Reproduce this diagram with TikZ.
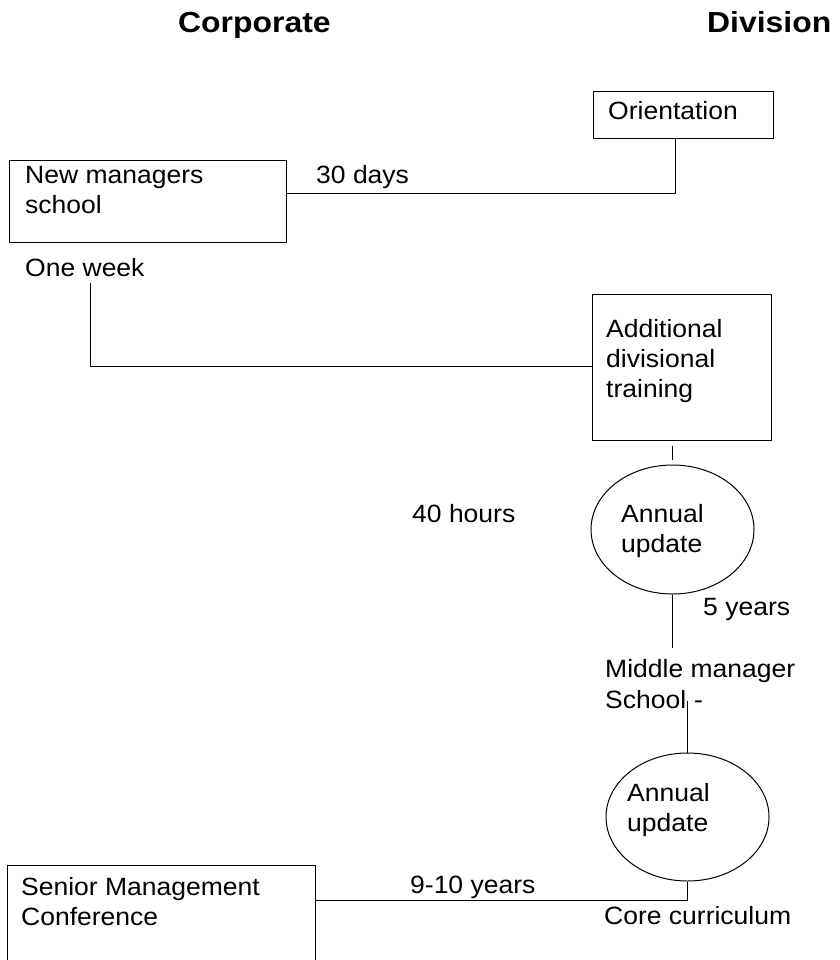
\documentclass[tikz,border=0pt]{standalone}
\usepackage{fontspec}
\setmainfont{Liberation Sans}[FakeStretch=1.06]
\newfontfamily\headfont{Liberation Sans}[FakeStretch=1.1]
\usetikzlibrary{shapes.geometric}

\tikzset{
  box/.style={draw, line width=1pt, rectangle, inner sep=0pt},
  oval/.style={draw, line width=1pt, ellipse, inner sep=0pt},
  link/.style={draw, line width=1pt},
  txt/.style={anchor=base west, inner sep=0pt, font=\fontsize{25}{30}\selectfont},
  head/.style={anchor=base west, inner sep=0pt, font=\headfont\bfseries\fontsize{29}{34}\selectfont},
}

\begin{document}
\begin{tikzpicture}[x=1pt, y=-1pt]
  \clip (0,0) rectangle (839,960);
  \fill[white] (0,0) rectangle (839,960);

  % column headings
  \node[head] (hcorp) at (178,33) {Corporate};
  \node[head] (hdiv)  at (707,33) {Division};

  % boxes and ovals
  \node[box, minimum width=277pt, minimum height=81pt]  (nms)    at (147.5,201.5) {};
  \node[box, minimum width=180pt, minimum height=47pt]  (orient) at (683,115.5) {};
  \node[box, minimum width=179pt, minimum height=146pt] (addl)   at (681.5,367) {};
  \node[oval, minimum width=163pt, minimum height=129pt] (upd1)  at (672.5,529.5) {};
  \node[oval, minimum width=163pt, minimum height=128pt] (upd2)  at (687.5,817) {};
  \node[box, minimum width=308pt, minimum height=130pt] (senior) at (161,930) {};

  % texts
  \node[txt] (t-nms1) at (25,183) {New managers};
  \node[txt] (t-nms2) at (25,213) {school};
  \node[txt] (t-30)   at (316,183) {30 days};
  \node[txt] (t-week) at (25,276) {One week};
  \node[txt] (t-or)   at (608,120) {Orientation};
  \node[txt] (t-ad1)  at (606,337) {Additional};
  \node[txt] (t-ad2)  at (606,367) {divisional};
  \node[txt] (t-ad3)  at (606,397) {training};
  \node[txt] (t-40)   at (412,522) {40 hours};
  \node[txt] (t-u11)  at (621,522) {Annual};
  \node[txt] (t-u12)  at (621,552) {update};
  \node[txt] (t-5y)   at (703,615) {5 years};
  \node[txt] (t-mm1)  at (605,677) {Middle manager};
  \node[txt] (t-mm2)  at (605,708) {School};
  \node[txt] (t-dash) at (694,708) {-};
  \node[txt] (t-u21)  at (627,801) {Annual};
  \node[txt] (t-u22)  at (627,831) {update};
  \node[txt] (t-910)  at (410,893) {9-10 years};
  \node[txt] (t-sm1)  at (21,895) {Senior Management};
  \node[txt] (t-sm2)  at (21,925) {Conference};
  \node[txt] (t-core) at (604,924) {Core curriculum};

  % corner and free-end points of the connectors
  \coordinate (c-or)   at (675,193);
  \coordinate (w-top)  at (90,283);
  \coordinate (c-ad)   at (90,366);
  \coordinate (m-end)  at (672.5,648);
  \coordinate (s-top)  at (687.5,701);
  \coordinate (c-sen)  at (687.5,900);

  % connectors
  \draw[link] (nms.east |- c-or) -- (c-or) -- (orient.south -| c-or);
  \draw[link] (w-top) -- (c-ad) -- (addl.west |- c-ad);
  \draw[link, shorten <=5pt, shorten >=5pt] (addl.south -| upd1.north) -- (upd1.north);
  \draw[link] (upd1.south) -- (m-end);
  \draw[link] (s-top) -- (upd2.north);
  \draw[link] (upd2.south) -- (c-sen) -- (senior.east |- c-sen);
\end{tikzpicture}
\end{document}
